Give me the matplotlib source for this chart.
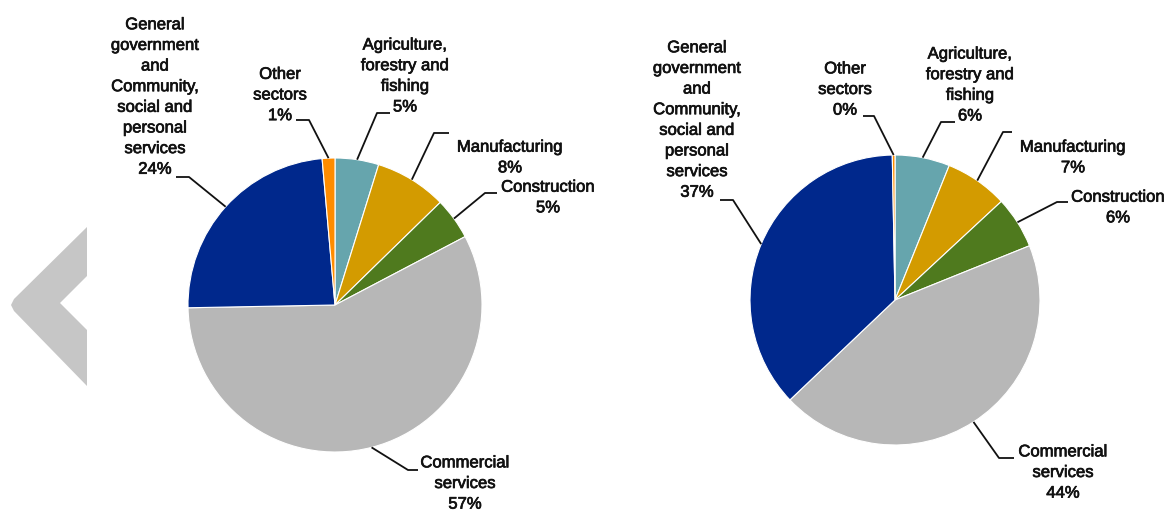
import matplotlib
matplotlib.use("Agg")
import matplotlib.pyplot as plt
import matplotlib.patheffects as pe
import numpy as np
from matplotlib.patches import Polygon

plt.rcParams['font.family'] = ['Liberation Sans', 'DejaVu Sans']

W, H = 1170, 513

sectors = ['Agriculture,\nforestry and\nfishing', 'Manufacturing', 'Construction',
           'Commercial\nservices', 'General\ngovernment\nand\nCommunity,\nsocial and\npersonal\nservices',
           'Other\nsectors']
colors = ['#66a5ad', '#d39b00', '#4f7a1e', '#b7b7b7', '#00288c', '#ff8c00']

left_vals = [4.8, 7.9, 4.6, 57.4, 23.9, 1.4]
left_pct = ['5%', '8%', '5%', '57%', '24%', '1%']
right_vals = [6.1, 7.0, 5.8, 44.0, 36.8, 0.3]
right_pct = ['6%', '7%', '6%', '44%', '37%', '0%']

# layout in image pixels (x, y from top)
left_center, left_r = (335, 305), 147
right_center, right_r = (895, 300), 145
left_text = [(405, 76), (510, 157.5), (548, 197.5), (465, 483.5), (155, 97), (280, 95)]
left_elbow = [(377, 113), (434, 133), (485, 193), (408, 470), (189, 177), (309, 120)]
left_end = [(390, 113), (449, 133), (497, 193), (418, 470), (176, 177), (296, 120)]
right_text = [(970, 85), (1073, 157.5), (1118, 207.5), (1063, 472.5), (697, 120), (845, 89.5)]
right_elbow = [(941, 122), (1003, 132), (1057, 202), (999, 458), (733, 200), (874, 116)]
right_end = [(955, 122), (1012, 132), (1068, 202), (1014, 458), (720, 200), (863, 116)]

fig = plt.figure(figsize=(W / 100, H / 100), dpi=100)
ax = fig.add_axes([0, 0, 1, 1])
thick = [pe.withStroke(linewidth=0.5, foreground='#111111')]


def draw_pie(vals, pct, center, r, text_pos, elbows, ends):
    cx, cy = center[0], H - center[1]
    wedges, _ = ax.pie(vals, colors=colors, startangle=90, counterclock=False,
                       center=(cx, cy), radius=r,
                       wedgeprops=dict(edgecolor='white', linewidth=0.8))
    for w, name, p, tp, el, en in zip(wedges, sectors, pct, text_pos, elbows, ends):
        mid = np.deg2rad((w.theta1 + w.theta2) / 2)
        ax_x = cx + r * np.cos(mid)
        ax_y = cy + r * np.sin(mid)
        ax.plot([ax_x, el[0], en[0]], [ax_y, H - el[1], H - en[1]],
                color='#111111', lw=1.3, solid_capstyle='butt')
        ax.text(tp[0], H - tp[1], name + '\n' + p, ha='center', va='center',
                fontsize=12, color='#111111', linespacing=1.47, path_effects=thick)


draw_pie(left_vals, left_pct, left_center, left_r, left_text, left_elbow, left_end)
draw_pie(right_vals, right_pct, right_center, right_r, right_text, right_elbow, right_end)

ax.set_xlim(0, W)
ax.set_ylim(0, H)
ax.set_aspect('auto')
ax.axis('off')

# grey "back" chevron clipped at the left edge
chev = [(87, 227), (14, 299), (11, 305), (14, 311), (87, 386), (87, 330), (60, 303), (87, 276)]
ax.add_patch(Polygon([(x, H - y) for x, y in chev], closed=True, facecolor='#c6c6c6',
                     edgecolor='none'))

fig.savefig('out.png', dpi=100)
